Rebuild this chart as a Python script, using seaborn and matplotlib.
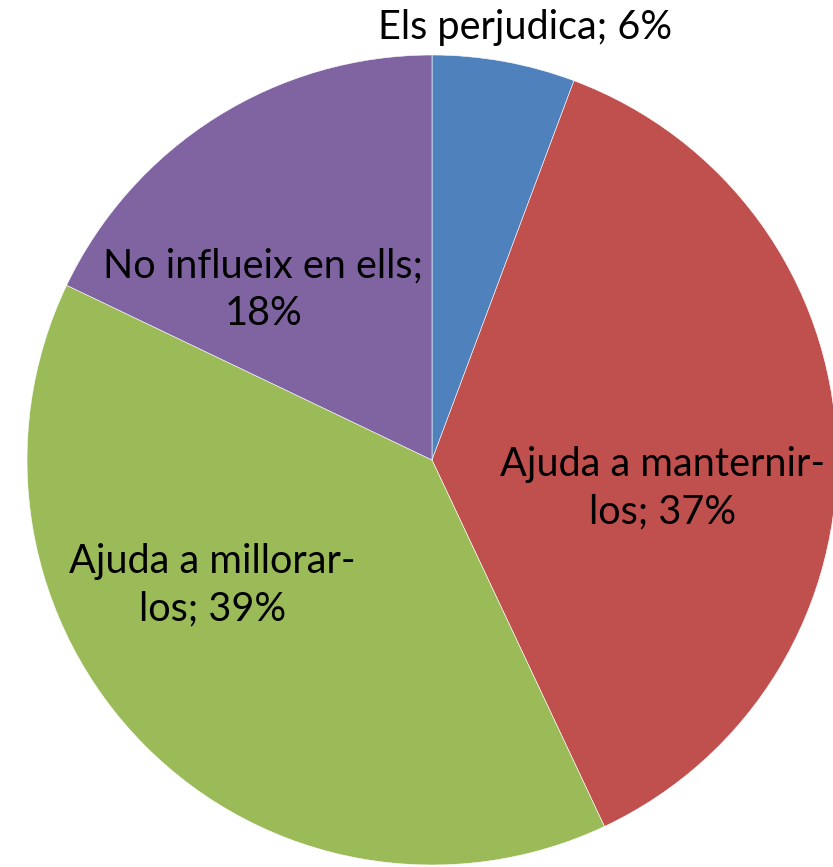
import matplotlib
matplotlib.use('Agg')
import matplotlib.pyplot as plt
import seaborn as sns
import numpy as np

# Data (shares; labels show the rounded values)
labels = ['Els perjudica; 6%', 'Ajuda a manternir-\nlos; 37%',
          'Ajuda a millorar-\nlos; 39%', 'No influeix en ells;\n18%']
values = [5.7, 37.3, 39.1, 17.9]
colors = ['#4F81BD', '#C0504D', '#9BBB59', '#8064A2']

sns.set_style('white')
plt.rcParams['font.family'] = ['Lato', 'DejaVu Sans']

fig = plt.figure(figsize=(8.33, 8.67), dpi=100)
ax = fig.add_axes([0, 0, 1, 1])

# pie center at (432, 460) px, radius 405 px
cx, cy, r = 432, 460, 405
W, H = 833, 867

wedges, _ = ax.pie(values, colors=sns.color_palette(colors), startangle=90,
                   counterclock=False, radius=1.0,
                   wedgeprops=dict(edgecolor='white', linewidth=0.4))

ax.set_xlim(-cx / r, (W - cx) / r)
ax.set_ylim((cy - H) / r, cy / r)
ax.set_aspect('auto')
ax.axis('off')

# label positions (in radius units)
label_pos = [(0.23, 1.069), (0.570, -0.069), (-0.543, -0.309), (-0.417, 0.42)]
for lab, (x, y) in zip(labels, label_pos):
    ax.text(x, y, lab, ha='center', va='center', multialignment='center',
            fontsize=28.5, color='black', linespacing=1.35)

fig.savefig('out.png', dpi=100)
